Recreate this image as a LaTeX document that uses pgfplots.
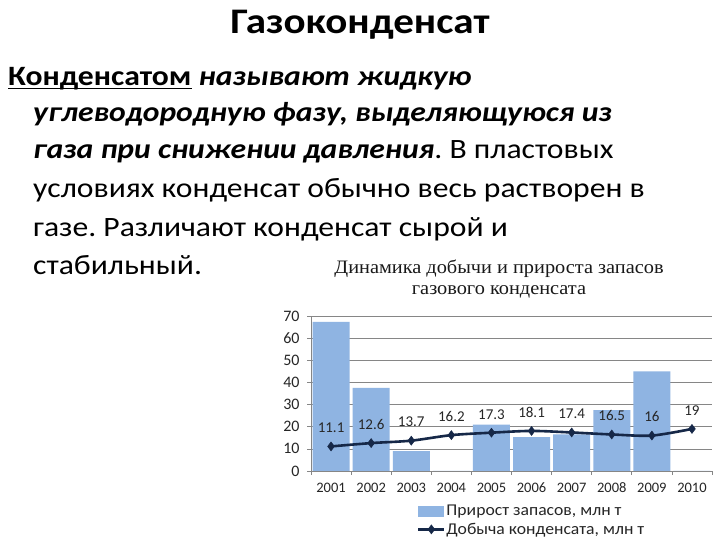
\documentclass[border=0pt]{standalone}
\usepackage{fontspec}
\usepackage{graphicx}
\setmainfont{Carlito}
\newfontfamily\chartserif{Liberation Serif}
\usepackage{pgfplots}
\pgfplotsset{compat=1.18}
\definecolor{barblue}{RGB}{143,180,226}
\definecolor{navy}{RGB}{22,40,72}
\definecolor{gridgray}{RGB}{134,134,134}
\newcommand\ul[1]{\setbox0\hbox{#1}\rlap{\rule[-3.5bp]{\wd0}{1.5bp}}\box0}
\newcommand\sx[1]{\scalebox{1.13}[1]{#1}}
\frenchspacing
\begin{document}
\begin{tikzpicture}[x=1bp,y=1bp]
\fill[white] (0,0) rectangle (720,540);
\path[use as bounding box] (0,0) rectangle (720,540);
\node[anchor=base, inner sep=0pt, font=\fontsize{36bp}{40bp}\selectfont\bfseries] at (360,506) {\scalebox{1.14}[1]{Газоконденсат}};
\begin{scope}[every node/.style={anchor=base west, inner sep=0pt, font=\fontsize{28bp}{32bp}\selectfont}]
\node at (8,454) {\sx{\textbf{\ul{Конденсатом}} \textbf{\textit{называют жидкую}}}};
\node at (33,418) {\sx{\textbf{\textit{углеводородную фазу, выделяющуюся из}}}};
\node at (33,381) {\sx{\textbf{\textit{газа при снижении давления}}. В пластовых}};
\node at (33,342) {\sx{условиях конденсат обычно весь растворен в}};
\node at (33,303.5) {\sx{газе. Различают конденсат сырой и}};
\node at (33,265) {\sx{стабильный.}};
\end{scope}
\node[anchor=base, inner sep=0pt, font=\chartserif\fontsize{19bp}{22bp}\selectfont, text=black!90] at (499,266) {\scalebox{1.07}[1]{Динамика добычи и прироста запасов}};
\node[anchor=base, inner sep=0pt, font=\chartserif\fontsize{19bp}{22bp}\selectfont, text=black!90] at (499,245) {\scalebox{1.07}[1]{газового конденсата}};
\begin{axis}[
 at={(311bp,69bp)}, anchor=south west, scale only axis, width=401bp, height=155bp,
 xmin=2000.5, xmax=2010.5, ymin=0, ymax=70,
 axis lines*=left, axis line style={draw=gridgray, line width=0.8bp},
 ytick={0,10,20,30,40,50,60,70}, ymajorgrids, grid style={gridgray, line width=0.7bp},
 xtick={2001,2002,2003,2004,2005,2006,2007,2008,2009,2010},
 x tick label style={/pgf/number format/1000 sep={}, /pgf/number format/fixed},
 minor xtick={2000.5,2001.5,2002.5,2003.5,2004.5,2005.5,2006.5,2007.5,2008.5,2009.5,2010.5},
 major x tick style={draw=none},
 minor x tick style={draw=gridgray, line width=0.7bp},
 ytick style={draw=gridgray, line width=0.7bp},
 tick align=outside, major tick length=4bp, minor tick length=4bp,
 ticklabel style={font=\fontsize{14.5bp}{16bp}\selectfont, text=black!85},
 yticklabel style={font=\fontsize{16bp}{17bp}\selectfont},
 /pgf/number format/assume math mode=true,
 xticklabel style={anchor=base, yshift=-18bp},
 yticklabel style={xshift=-4bp},
 legend style={at={(axis description cs:0.264,-0.215)}, anchor=north west, draw=none, fill=none,
   font=\fontsize{16.5bp}{17bp}\selectfont, inner sep=0pt, row sep=4bp, nodes={inner sep=0.8bp, text=black!85}},
 legend cell align=left,
]
\addplot[ybar, bar width=37bp, fill=barblue, draw=none, bar shift=0pt,
  legend image code/.code={\fill[barblue] (0bp,-5.5bp) rectangle (26bp,5.5bp);}]
  coordinates {(2001,67.3)(2002,37.5)(2003,9)(2004,0)(2005,20.9)(2006,15.3)(2007,16.5)(2008,27.5)(2009,45)(2010,0)};
\addlegendentry{\scalebox{1.07}[1]{Прирост запасов, млн т}}
\addplot[color=navy, line width=2.6bp, smooth, tension=0.5, mark=diamond*, mark size=4.5bp,
  mark options={solid, fill=navy, line width=0.5bp},
  nodes near coords,
  every node near coord/.append style={font=\fontsize{15bp}{16bp}\selectfont, text=black!85, anchor=south, yshift=10bp},
  legend image code/.code={\draw[mark repeat=2,mark phase=2] plot coordinates {(0bp,0bp)(13bp,0bp)(26bp,0bp)};}]
  coordinates {(2001,11.1)(2002,12.6)(2003,13.7)(2004,16.2)(2005,17.3)(2006,18.1)(2007,17.4)(2008,16.5)(2009,16)(2010,19)};
\addlegendentry{\scalebox{1.07}[1]{Добыча конденсата, млн т}}
\end{axis}
\end{tikzpicture}
\end{document}
